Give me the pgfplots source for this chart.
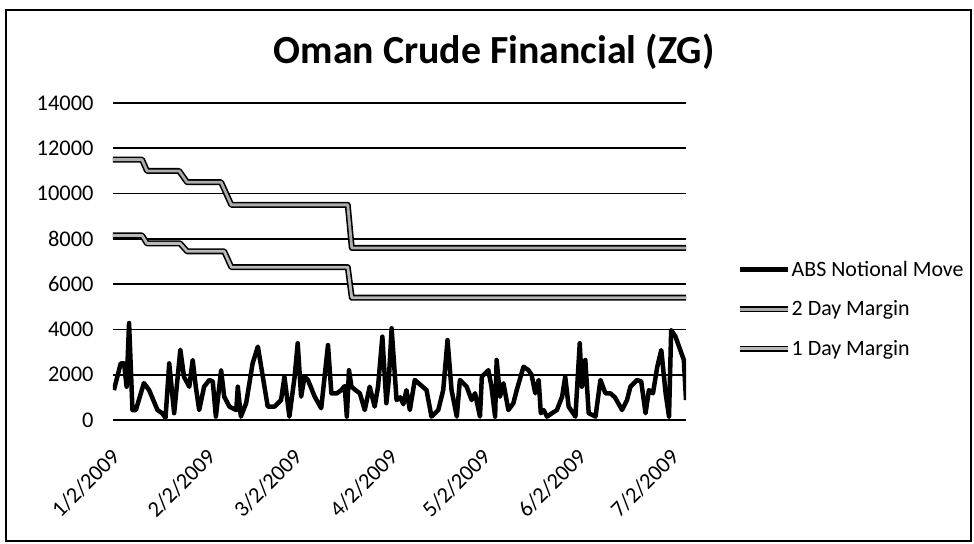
\documentclass[border=0pt]{standalone}
\usepackage{pgfplots}
\pgfplotsset{compat=1.18}
\usepackage{fontspec}
\setmainfont{Carlito}

\pgfplotstableread{
day val
0.3 1320
2.5 2500
3.6 2500
4.4 1470
5.2 4280
6.3 440
7.4 440
10 1630
11.7 1320
14.4 440
15.9 300
17 100
18.2 2500
19.8 300
21.8 3100
23 1900
24.7 1470
25.8 2650
26.8 1470
27.9 440
29.5 1470
31.2 1770
32.3 1700
33.3 150
35 2200
36 1030
37.7 590
39.9 440
40.4 1470
41.4 150
43.1 740
45.2 2500
46.9 3240
48.5 1910
50.1 590
52.3 590
54.4 880
55.5 1910
57.1 150
58.8 1910
59.8 3390
60.9 1030
62 1910
63.1 1770
65.3 1030
67.4 520
68.5 1910
69.6 3310
70.7 1180
72.5 1180
73.9 1320
75.0 1500
75.7 150
76.4 2200
77.2 1470
78.5 1320
79.9 1180
81.5 440
83.1 1470
84.7 590
85.8 1470
87.2 3680
88.5 740
89.3 1800
90.2 4050
91.8 880
93 1000
94 700
95 1320
96.1 440
97.7 1770
101.5 1320
103.1 150
105.3 440
106.9 1320
108.3 3530
109.6 1320
111.3 150
112.3 1770
114.5 1470
116.1 880
117.2 1180
118.8 150
119.4 1910
121.5 2200
122.5 1500
123.7 150
124.2 2650
125.3 1030
126.4 1620
128 440
129.6 740
130.7 1320
132.9 2350
134.5 2200
135.5 2000
136.7 1180
137.8 1770
138.5 300
139.4 440
140.5 150
143.7 440
145.4 1030
146.4 1910
147.5 590
149.7 150
151.1 3390
151.8 1470
152.9 2650
154 300
156.2 150
157.8 1770
159.4 1180
161 1180
162.5 1000
164.8 440
166.4 880
167.5 1470
169.7 1770
171 1700
172.4 300
173.5 1320
174.8 1180
176.2 2350
177.5 3090
178.9 1180
180 150
180.7 3970
182.1 3680
184.8 2650
185.5 880
}\absmove

\pgfplotstableread{
day val
0 11500
9.4 11500
11 11000
21.4 11000
24 10500
35 10500
38.3 9500
76 9500
77.3 7600
185.5 7600
}\twoday

\pgfplotstableread{
day val
0 8150
9.4 8150
11 7800
21.7 7800
24 7450
36 7450
38.3 6750
76 6750
77.3 5400
185.5 5400
}\oneday

\begin{document}
\begin{tikzpicture}
\useasboundingbox (0bp,0bp) rectangle (974bp,544bp);
\draw[line width=1.5bp] (6bp,3bp) rectangle (971bp,534bp);
\node[font=\bfseries\fontsize{40}{46}\selectfont] at (494bp,492bp) {Oman Crude Financial (ZG)};
\begin{axis}[
  at={(113bp,124bp)}, anchor=south west,
  scale only axis, width=573bp, height=317bp,
  xmin=0, xmax=185.5, ymin=0, ymax=14000,
  ytick={0,2000,...,14000},
  xtick={0,31,59,90,120,151,181},
  xticklabels={1/2/2009,2/2/2009,3/2/2009,4/2/2009,5/2/2009,6/2/2009,7/2/2009},
  scaled y ticks=false,
  /pgf/number format/.cd, 1000 sep={}, assume math mode=true, /pgfplots/.cd,
  ymajorgrids,
  major grid style={black, line width=1.6bp},
  axis line style={draw=none},
  tick style={draw=none},
  ticklabel style={font=\fontsize{22.5}{26}\selectfont},
  yticklabel style={xshift=-16bp},
  xticklabel style={inner sep=0pt, anchor=north east, xshift=-3bp, yshift=-27bp, rotate=45},
  legend style={at={(1.089,0.35)}, anchor=west, draw=none, fill=none,
    font=\fontsize{22}{25}\selectfont, row sep=19bp, inner xsep=0pt,
    nodes={inner xsep=0.5bp}},
  legend cell align=left,
  legend image code/.code={\draw[#1] (0bp,0bp) -- (48bp,0bp);},
]
\addplot[black, line width=4.5bp, line join=round] table[x=day, y=val] {\absmove};
\addlegendentry{ABS Notional Move}
\addplot[black, line width=1.6bp, double=gray!65, double distance=2.8bp, line join=round] table[x=day, y=val] {\twoday};
\addlegendentry{2 Day Margin}
\addplot[black, line width=1.6bp, double=gray!55, double distance=2.8bp, line join=round] table[x=day, y=val] {\oneday};
\addlegendentry{1 Day Margin}
\end{axis}
\end{tikzpicture}
\end{document}
